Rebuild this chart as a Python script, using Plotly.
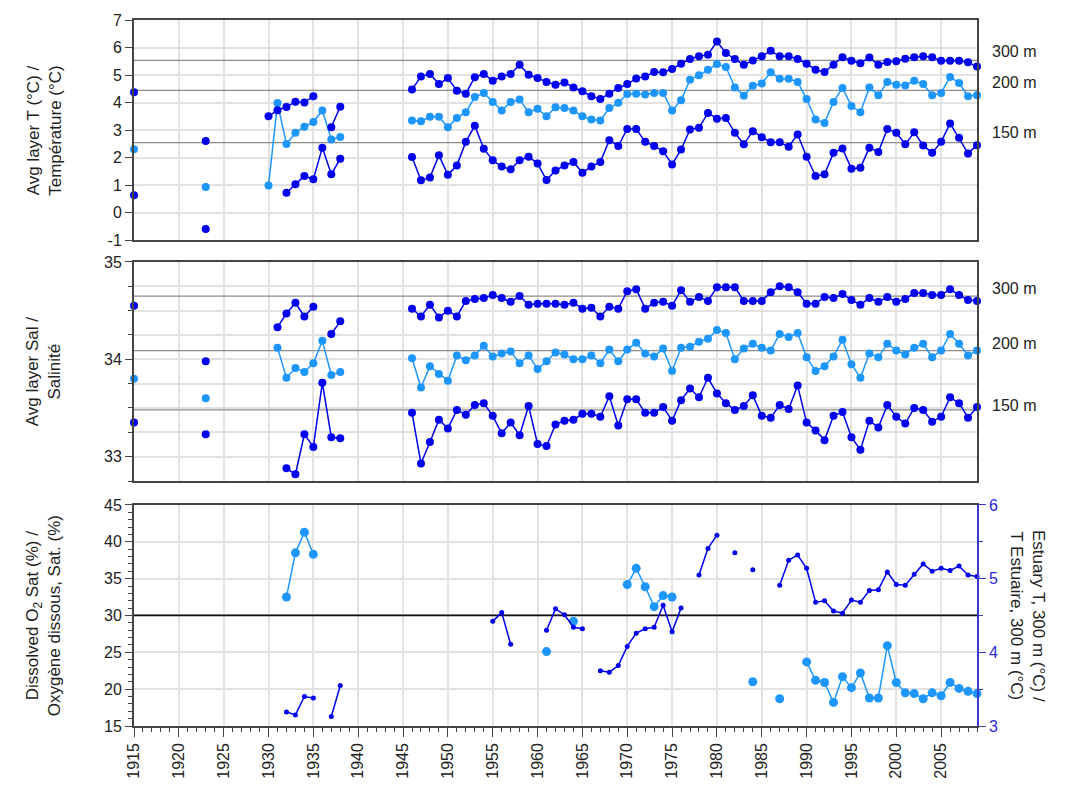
import plotly.graph_objects as go

YEARS = list(range(1915, 2010))

# ---- Temperature (deg C) -------------------------------------------------
T300_early = {1915: 4.37, 1923: 2.60, 1930: 3.50, 1931: 3.72, 1932: 3.84, 1933: 4.03,
              1934: 4.00, 1935: 4.23, 1937: 3.10, 1938: 3.85}
T300_main = [4.47, 4.95, 5.04, 4.67, 4.89, 4.43, 4.32, 4.92, 5.04, 4.79,
             4.95, 5.04, 5.37, 5.01, 4.89, 4.75, 4.65, 4.73, 4.55, 4.41,
             4.23, 4.13, 4.32, 4.53, 4.67, 4.87, 4.95, 5.11, 5.10, 5.22,
             5.41, 5.58, 5.68, 5.74, 6.22, 5.80, 5.58, 5.37, 5.53, 5.68,
             5.88, 5.68, 5.68, 5.58, 5.41, 5.19, 5.11, 5.37, 5.65, 5.52,
             5.43, 5.64, 5.37, 5.47, 5.50, 5.59, 5.65, 5.68, 5.65, 5.52,
             5.52, 5.52, 5.46, 5.31]
T200_early = {1915: 2.30, 1923: 0.93, 1930: 0.98, 1931: 3.98, 1932: 2.49, 1933: 2.90,
              1934: 3.12, 1935: 3.29, 1936: 3.71, 1937: 2.66, 1938: 2.75}
T200_main = [3.35, 3.32, 3.48, 3.48, 3.10, 3.44, 3.65, 4.20, 4.35, 4.02,
             3.71, 4.02, 4.11, 3.65, 3.77, 3.50, 3.83, 3.80, 3.71, 3.50,
             3.38, 3.35, 3.80, 3.99, 4.31, 4.32, 4.29, 4.35, 4.35, 3.71,
             4.08, 4.83, 4.99, 5.19, 5.40, 5.29, 4.55, 4.25, 4.61, 4.69,
             5.10, 4.86, 4.86, 4.75, 4.13, 3.38, 3.26, 4.02, 4.53, 3.87,
             3.65, 4.55, 4.26, 4.75, 4.65, 4.62, 4.79, 4.67, 4.26, 4.35,
             4.93, 4.71, 4.23, 4.26]
T150_early = {1915: 0.63, 1923: -0.60, 1932: 0.72, 1933: 1.03, 1934: 1.33, 1935: 1.21,
              1936: 2.36, 1937: 1.39, 1938: 1.96}
T150_main = [2.02, 1.17, 1.27, 2.08, 1.37, 1.71, 2.57, 3.16, 2.32, 1.90,
             1.67, 1.57, 1.90, 2.03, 1.78, 1.18, 1.53, 1.71, 1.84, 1.45,
             1.67, 1.84, 2.63, 2.42, 3.04, 3.04, 2.57, 2.42, 2.23, 1.75,
             2.29, 3.02, 3.08, 3.62, 3.41, 3.44, 2.90, 2.48, 2.96, 2.74,
             2.56, 2.56, 2.39, 2.84, 2.03, 1.33, 1.39, 2.17, 2.33, 1.59,
             1.63, 2.36, 2.20, 3.04, 2.90, 2.48, 2.92, 2.44, 2.17, 2.57,
             3.24, 2.72, 2.15, 2.45]
T_REF = [5.53, 4.44, 2.54]

# ---- Salinity -------------------------------------------------------------
S300_early = {1915: 34.55, 1923: 33.98, 1931: 34.33, 1932: 34.47, 1933: 34.58,
              1934: 34.44, 1935: 34.54, 1937: 34.26, 1938: 34.39}
S300_main = [34.52, 34.44, 34.56, 34.43, 34.50, 34.44, 34.60, 34.62, 34.63, 34.66,
             34.63, 34.59, 34.65, 34.56, 34.57, 34.57, 34.57, 34.56, 34.58, 34.52,
             34.53, 34.44, 34.54, 34.52, 34.70, 34.72, 34.52, 34.58, 34.59, 34.55,
             34.71, 34.59, 34.64, 34.60, 34.74, 34.74, 34.74, 34.60, 34.60, 34.60,
             34.69, 34.75, 34.74, 34.69, 34.57, 34.57, 34.64, 34.63, 34.67, 34.61,
             34.56, 34.63, 34.59, 34.64, 34.59, 34.62, 34.68, 34.68, 34.66, 34.66,
             34.72, 34.66, 34.61, 34.60]
S200_early = {1915: 33.80, 1923: 33.60, 1931: 34.12, 1932: 33.81, 1933: 33.91,
              1934: 33.87, 1935: 33.96, 1936: 34.19, 1937: 33.84, 1938: 33.87}
S200_main = [34.01, 33.71, 33.93, 33.85, 33.78, 34.04, 33.99, 34.04, 34.14, 34.03,
             34.06, 34.08, 33.96, 34.04, 33.90, 33.98, 34.07, 34.05, 34.00, 34.00,
             34.04, 33.96, 34.10, 33.98, 34.10, 34.17, 34.06, 34.03, 34.11, 33.88,
             34.12, 34.13, 34.18, 34.21, 34.30, 34.27, 34.00, 34.11, 34.16, 34.12,
             34.09, 34.26, 34.23, 34.27, 34.02, 33.88, 33.93, 34.03, 34.20, 33.95,
             33.81, 34.06, 34.02, 34.16, 34.09, 34.05, 34.12, 34.16, 34.02, 34.09,
             34.26, 34.16, 34.04, 34.09]
S150_early = {1915: 33.35, 1923: 33.23, 1932: 32.88, 1933: 32.82, 1934: 33.23,
              1935: 33.10, 1936: 33.76, 1937: 33.20, 1938: 33.19}
S150_main = [33.45, 32.93, 33.15, 33.38, 33.29, 33.48, 33.43, 33.53, 33.55, 33.42,
             33.24, 33.35, 33.22, 33.52, 33.13, 33.11, 33.33, 33.37, 33.38, 33.44,
             33.44, 33.41, 33.62, 33.32, 33.59, 33.59, 33.45, 33.45, 33.51, 33.37,
             33.58, 33.70, 33.61, 33.81, 33.65, 33.55, 33.48, 33.52, 33.63, 33.42,
             33.40, 33.53, 33.49, 33.73, 33.35, 33.27, 33.17, 33.42, 33.46, 33.20,
             33.07, 33.37, 33.30, 33.53, 33.41, 33.34, 33.50, 33.48, 33.36, 33.41,
             33.61, 33.55, 33.40, 33.51]
S_REF = [34.65, 34.09, 33.48]

# ---- Dissolved O2 saturation (%) and estuary T 300 m (deg C) ---------------
O2_SAT = {1932: 32.5, 1933: 38.5, 1934: 41.3, 1935: 38.3, 1961: 25.1, 1964: 29.2,
          1970: 34.2, 1971: 36.4, 1972: 33.9, 1973: 31.2, 1974: 32.7, 1975: 32.5,
          1984: 21.0, 1987: 18.7, 1990: 23.7, 1991: 21.2, 1992: 20.9, 1993: 18.2,
          1994: 21.7, 1995: 20.2, 1996: 22.2, 1997: 18.8, 1998: 18.8, 1999: 25.9,
          2000: 20.9, 2001: 19.5, 2002: 19.4, 2003: 18.7, 2004: 19.5, 2005: 19.1,
          2006: 20.9, 2007: 20.1, 2008: 19.7, 2009: 19.4}
EST_T = {1932: 3.19, 1933: 3.15, 1934: 3.40, 1935: 3.38, 1937: 3.13, 1938: 3.55,
         1955: 4.42, 1956: 4.54, 1957: 4.11, 1961: 4.30, 1962: 4.59, 1963: 4.51,
         1964: 4.34, 1965: 4.32, 1967: 3.75, 1968: 3.73, 1969: 3.82, 1970: 4.08,
         1971: 4.26, 1972: 4.32, 1973: 4.34, 1974: 4.64, 1975: 4.28, 1976: 4.60,
         1978: 5.05, 1979: 5.41, 1980: 5.59, 1982: 5.35, 1984: 5.12, 1987: 4.91,
         1988: 5.25, 1989: 5.32, 1990: 5.14, 1991: 4.68, 1992: 4.70, 1993: 4.56,
         1994: 4.53, 1995: 4.71, 1996: 4.68, 1997: 4.84, 1998: 4.85, 1999: 5.09,
         2000: 4.92, 2001: 4.91, 2002: 5.06, 2003: 5.20, 2004: 5.10, 2005: 5.14,
         2006: 5.11, 2007: 5.17, 2008: 5.05, 2009: 5.03}
O2_REF = 30

X_TICKS = list(range(1915, 2010, 5))
T_TICKS = list(range(-1, 8))
S_TICKS = [33, 34, 35]
O2_TICKS = [15, 20, 25, 30, 35, 40, 45]
ET_TICKS = [3, 4, 5, 6]
DEPTH_LABELS = ["300 m", "200 m", "150 m"]


def series(early, main=None, main_start=1946):
    d = dict(early)
    if main:
        for i, v in enumerate(main):
            d[main_start + i] = v
    return [d.get(y) for y in YEARS]


DARK = "#0000F0"
LIGHT = "#1E96FF"
GRID = "#E2E2E2"
AX = "#444444"
FONT = "Liberation Sans, Arial, sans-serif"

fig = go.Figure()


def add(y, color, xa, ya, size=8, width=1.5):
    fig.add_trace(go.Scatter(
        x=YEARS, y=y, mode="lines+markers", xaxis=xa, yaxis=ya,
        line=dict(color=color, width=width), marker=dict(color=color, size=size),
        connectgaps=False, cliponaxis=False, showlegend=False, hoverinfo="x+y"))


def ref_line(v, xa, ya, color, width):
    fig.add_trace(go.Scatter(
        x=[YEARS[0], YEARS[-1]], y=[v, v], mode="lines", xaxis=xa, yaxis=ya,
        line=dict(color=color, width=width), showlegend=False, hoverinfo="skip"))


for v in T_REF:
    ref_line(v, "x", "y", "#8C8C8C", 1.3)
for v in S_REF:
    ref_line(v, "x2", "y2", "#8C8C8C", 1.3)
ref_line(O2_REF, "x3", "y3", "#111111", 1.7)

add(series(T200_early, T200_main), LIGHT, "x", "y")
add(series(T300_early, T300_main), DARK, "x", "y")
add(series(T150_early, T150_main), DARK, "x", "y")
add(series(S200_early, S200_main), LIGHT, "x2", "y2")
add(series(S300_early, S300_main), DARK, "x2", "y2")
add(series(S150_early, S150_main), DARK, "x2", "y2")
add(series(O2_SAT), LIGHT, "x3", "y3", size=9)
add(series(EST_T), DARK, "x3", "y4", size=5, width=1.5)

annotations = []
for lab, v in zip(DEPTH_LABELS, [5.85, 4.72, 2.9]):
    annotations.append(dict(text=lab, xref="x domain", yref="y", x=1.015, y=v,
                            xanchor="left", yanchor="middle", showarrow=False,
                            font=dict(size=16, color="#222")))
for lab, v in zip(DEPTH_LABELS, [34.73, 34.16, 33.53]):
    annotations.append(dict(text=lab, xref="x2 domain", yref="y2", x=1.015, y=v,
                            xanchor="left", yanchor="middle", showarrow=False,
                            font=dict(size=16, color="#222")))
titles = [
    ("Avg layer T (°C) /<br>Température (°C)", "y domain"),
    ("Avg layer Sal /<br>Salinité", "y2 domain"),
    ("Dissolved O<sub>2</sub> Sat (%) /<br>Oxygène dissous, Sat. (%)", "y3 domain"),
]
for txt, yr in titles:
    annotations.append(dict(text=txt, xref="paper", yref=yr, x=-0.107, y=0.5,
                            xanchor="center", yanchor="middle", textangle=-90,
                            showarrow=False, font=dict(size=17, color="#222")))
annotations.append(dict(text="Estuary T, 300 m (°C) /<br>T Estuaire, 300 m (°C)",
                        xref="paper", yref="y3 domain", x=1.06, y=0.5,
                        xanchor="center", yanchor="middle", textangle=90,
                        showarrow=False, font=dict(size=17, color="#222")))

xcommon = dict(range=[1915, 2009], tick0=1915, dtick=5, showgrid=True, gridcolor=GRID,
               gridwidth=1.5, showline=True, linecolor=AX, linewidth=1.5, mirror=True,
               zeroline=False)
ycommon = dict(showgrid=True, gridcolor=GRID, gridwidth=1.5, showline=True, linecolor=AX,
               linewidth=2, zeroline=False, ticks="outside", ticklen=7, tickcolor=AX,
               tickfont=dict(size=16, color="#222"))

fig.update_layout(
    width=1089, height=795,
    margin=dict(l=134, r=112, t=17, b=69),
    paper_bgcolor="white", plot_bgcolor="white",
    font=dict(family=FONT, size=16, color="#222"),
    showlegend=False,
    xaxis=dict(**xcommon, domain=[0, 1], anchor="y", showticklabels=False, ticks=""),
    xaxis2=dict(**xcommon, domain=[0, 1], anchor="y2", showticklabels=False, ticks=""),
    xaxis3=dict(**xcommon, domain=[0, 1], anchor="y3", ticks="outside", ticklen=9,
                tickcolor=AX, tickangle=-90, tickvals=X_TICKS,
                ticktext=[str(t) for t in X_TICKS], tickfont=dict(size=16, color="#222"),
                minor=dict(dtick=1, tick0=1915, ticks="outside", ticklen=4, tickcolor=AX,
                           showgrid=False)),
    yaxis=dict(**ycommon, domain=[0.6883, 1.0], anchor="x", range=[-1, 7], mirror=True,
               tickvals=T_TICKS, ticktext=[str(t) for t in T_TICKS]),
    yaxis2=dict(**ycommon, domain=[0.347, 0.6573], anchor="x2", range=[32.75, 35], mirror=True,
                tickvals=S_TICKS, ticktext=[str(t) for t in S_TICKS],
                minor=dict(dtick=0.25, tick0=33, showgrid=True, gridcolor=GRID, ticks="outside",
                           ticklen=4, tickcolor=AX)),
    yaxis3=dict(**ycommon, domain=[0, 0.3131], anchor="x3", range=[15, 45], mirror=False,
                tickvals=O2_TICKS, ticktext=[str(t) for t in O2_TICKS],
                minor=dict(dtick=1, tick0=15, showgrid=False, ticks="outside", ticklen=4,
                           tickcolor=AX)),
    yaxis4=dict(domain=[0, 0.3131], anchor="x3", overlaying="y3", side="right",
                range=[3, 6], tickvals=ET_TICKS, ticktext=[str(t) for t in ET_TICKS],
                showgrid=False, zeroline=False, showline=True, linecolor="#3A3AD0",
                linewidth=1.5, ticks="outside", ticklen=7, tickcolor="#3A3AD0",
                tickfont=dict(size=16, color="#2A2AE0"),
                minor=dict(dtick=0.5, ticks="outside", ticklen=4, tickcolor="#3A3AD0")),
    annotations=annotations,
)

# remove the browser's default page margin so the figure sits at the window origin
fig.write_html("out.html",
               config={"displayModeBar": False},
               post_script="document.body.style.margin='0';document.body.style.overflow='hidden';")
